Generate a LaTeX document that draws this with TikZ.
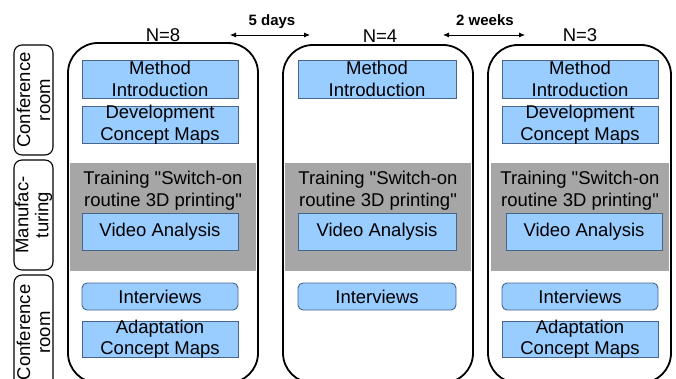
\documentclass[tikz,border=0pt]{standalone}
\usepackage{fontspec}
\newfontfamily\arialf{Liberation Sans}
\usetikzlibrary{arrows.meta}
\definecolor{boxblue}{RGB}{153,204,255}
\definecolor{boxedge}{RGB}{70,100,140}
\definecolor{band}{RGB}{166,166,166}
\tikzset{
  colbox/.style={draw=black, line width=1.8pt, fill=white, rounded corners=30pt, inner sep=0pt},
  roombox/.style={draw=black, line width=1.1pt, rounded corners=8pt, inner sep=0pt, minimum width=39pt},
  bandbox/.style={fill=band, inner sep=0pt, minimum height=108pt},
  bluebox/.style={draw=boxedge, line width=0.9pt, fill=boxblue, inner sep=0pt},
  roundblue/.style={bluebox, rounded corners=5pt},
  txt/.style={font=\arialf\fontsize{18.5}{21.5}\selectfont, align=center, inner sep=0pt},
  sidetxt/.style={txt, rotate=90, font=\arialf\fontsize{18.5}{20}\selectfont},
  gaptxt/.style={font=\arialf\bfseries\fontsize{15}{17}\selectfont, inner sep=0pt, anchor=base},
  gaparrow/.style={line width=0.8pt, {Latex[length=6pt,width=5pt]}-{Latex[length=6pt,width=5pt]}}
}
\begin{document}
\begin{tikzpicture}[x=1pt,y=-1pt]
\useasboundingbox (0,0) rectangle (676,379);
\clip (0,0) rectangle (676,379);

% room labels on the left
\node[roombox, minimum height=110pt] (r1) at (33.5,100) {};
\node[roombox, minimum height=110pt] (r2) at (33.5,215) {};
\node[roombox, minimum height=115pt] (r3) at (33.5,332.5) {};
\node[sidetxt] at (r1) {Conference\\room};
\node[sidetxt] at (r2) {Manufac-\\turing};
\node[sidetxt] at (r3) {Conference\\room};

% session columns
\node[colbox, minimum width=190pt, minimum height=340pt] (c1) at (163,213) {};
\node[colbox, minimum width=190pt, minimum height=338pt] (c2) at (378,214) {};
\node[colbox, minimum width=183pt, minimum height=338pt] (c3) at (579.5,214) {};

% group sizes
\node[txt, anchor=base] (n1) at (163,41.5) {N=8};
\node[txt, anchor=base] (n2) at (380,42.5) {N=4};
\node[txt, anchor=base] (n3) at (580,41.5) {N=3};

% intervals between sessions
\coordinate (a1) at (230,35);
\coordinate (b1) at (310,35);
\coordinate (a2) at (443,35);
\coordinate (b2) at (525,35);
\draw[gaparrow] (a1) -- (b1);
\draw[gaparrow] (a2) -- (b2);
\node[gaptxt] (d1) at (272,26) {5 days};
\node[gaptxt] (d2) at (485,26) {2 weeks};

% manufacturing bands
\node[bandbox, minimum width=186pt] (g1) at (163,217) {};
\node[bandbox, minimum width=186pt] (g2) at (378,217) {};
\node[bandbox, minimum width=178pt] (g3) at (580,217) {};
\node[txt] (t1) at (163,190.5) {Training "Switch-on\\routine 3D printing"};
\node[txt] (t2) at (378,190.5) {Training "Switch-on\\routine 3D printing"};
\node[txt] (t3) at (580,190.5) {Training "Switch-on\\routine 3D printing"};

% column 1
\node[bluebox, minimum width=156pt, minimum height=38pt] (m1) at (160,79) {};
\node[txt] at (m1) {Method\\Introduction};
\node[bluebox, minimum width=156pt, minimum height=37pt] (dv1) at (160,124.5) {};
\node[txt] at (dv1) {Development\\Concept Maps};
\node[bluebox, minimum width=156pt, minimum height=37pt] (v1) at (160,231.5) {};
\node[txt] at (v1) {Video Analysis};
\node[roundblue, minimum width=156pt, minimum height=27pt] (i1) at (160,296.5) {};
\node[txt] at (i1) {Interviews};
\node[bluebox, minimum width=156pt, minimum height=36pt] (ad1) at (160,339) {};
\node[txt] at (ad1) {Adaptation\\Concept Maps};

% column 2
\node[bluebox, minimum width=158pt, minimum height=38pt] (m2) at (377,79) {};
\node[txt] at (m2) {Method\\Introduction};
\node[bluebox, minimum width=158pt, minimum height=37pt] (v2) at (377,231.5) {};
\node[txt] at (v2) {Video Analysis};
\node[roundblue, minimum width=158pt, minimum height=27pt] (i2) at (377,296.5) {};
\node[txt] at (i2) {Interviews};

% column 3
\node[bluebox, minimum width=156pt, minimum height=38pt] (m3) at (580,79) {};
\node[txt] at (m3) {Method\\Introduction};
\node[bluebox, minimum width=156pt, minimum height=37pt] (dv3) at (580,124.5) {};
\node[txt] at (dv3) {Development\\Concept Maps};
\node[bluebox, minimum width=156pt, minimum height=37pt] (v3) at (584,231.5) {};
\node[txt] at (v3) {Video Analysis};
\node[roundblue, minimum width=156pt, minimum height=27pt] (i3) at (580,296.5) {};
\node[txt] at (i3) {Interviews};
\node[bluebox, minimum width=156pt, minimum height=36pt] (ad3) at (580,339) {};
\node[txt] at (ad3) {Adaptation\\Concept Maps};
\end{tikzpicture}
\end{document}
